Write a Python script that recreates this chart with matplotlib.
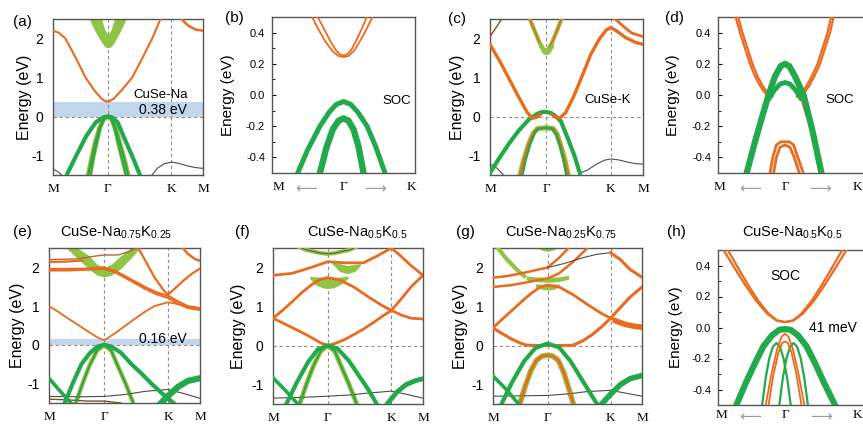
import matplotlib.pyplot as plt
from matplotlib.ticker import MultipleLocator

plt.rcParams['font.family'] = ['Liberation Sans', 'DejaVu Sans']
plt.rcParams['axes.unicode_minus'] = False
plt.rcParams['mathtext.fontset'] = 'custom'
plt.rcParams['mathtext.rm'] = 'Liberation Sans'

ORANGE = '#EA6A1E'
GREEN = '#22A94B'
LGREEN = '#8FC445'
OLIVE = '#A9B93E'
DARK = '#4F4A44'
BLUE = '#C2D7EE'
GRID = '#8E8E8E'

W, H = 863, 425

# high-symmetry path M-Γ-K-M
PATH_K = [0.0, 0.577, 1.244, 1.577]
PATH_LABELS = ['M', 'Γ', 'K', 'M']
SOC_LABELS = ['M', '⟵', 'Γ', '⟶', 'K']

# ---------------- (a) CuSe-Na ----------------
a_cb_k = [0.0, 0.06, 0.13, 0.24, 0.342, 0.44, 0.517, 0.547, 0.577, 0.607, 0.64, 0.73, 0.833, 0.94, 1.043, 1.13]
a_cb_e = [2.2, 2.15, 2.0, 1.5, 1.0, 0.65, 0.44, 0.4, 0.38, 0.41, 0.46, 0.7, 1.0, 1.5, 2.0, 2.5]
a_cb2_k = [1.35, 1.42, 1.5, 1.577]
a_cb2_e = [2.5, 2.33, 2.23, 2.2]
a_blob_k = [0.38, 0.45, 0.51, 0.545, 0.577, 0.61, 0.645, 0.70, 0.77]
a_blob_lo = [2.5, 2.15, 1.9, 1.79, 1.76, 1.79, 1.9, 2.15, 2.5]
a_blob_hi = [2.5, 2.5, 2.5, 2.22, 2.1, 2.22, 2.5, 2.5, 2.5]
a_vb1_k = [0.144, 0.245, 0.35, 0.45, 0.53, 0.577, 0.62, 0.68, 0.74, 0.83, 0.914]
a_vb1_e = [-1.5, -1.0, -0.5, -0.15, -0.02, 0.0, -0.02, -0.15, -0.5, -1.0, -1.5]
a_vb2_k = [0.37, 0.41, 0.44, 0.49, 0.53, 0.577, 0.62, 0.66, 0.70, 0.745, 0.79]
a_vb3_k = [0.395, 0.43, 0.46, 0.5, 0.54, 0.577, 0.61, 0.645, 0.68, 0.72, 0.765]
a_vb2_e = [-1.5, -1.03, -0.7, -0.28, -0.07, 0.0, -0.07, -0.3, -0.66, -1.05, -1.5]
a_bk1_k = [1.04, 1.1, 1.17, 1.244, 1.32, 1.42, 1.5, 1.577]
a_bk1_e = [-1.5, -1.32, -1.21, -1.17, -1.2, -1.27, -1.31, -1.33]
a_bk2_k = [0.0, 0.05, 0.09]
a_bk2_e = [-1.35, -1.41, -1.5]
a_gap = 0.38

# ---------------- (b) CuSe-Na, SOC ----------------
b_c1_x = [-0.44, -0.35, -0.25, -0.15, -0.07, 0.0, 0.07, 0.15, 0.25, 0.33, 0.405]
b_c1_e = [0.5, 0.42, 0.34, 0.28, 0.25, 0.243, 0.25, 0.285, 0.36, 0.43, 0.5]
b_c2_x = [-0.36, -0.28, -0.19, -0.11, -0.05, 0.0, 0.05, 0.11, 0.19, 0.26, 0.326]
b_c2_e = [0.5, 0.43, 0.35, 0.29, 0.26, 0.253, 0.26, 0.29, 0.36, 0.43, 0.5]
b_v1_x = [-0.64, -0.5, -0.33, -0.2, -0.1, 0.0, 0.1, 0.2, 0.33, 0.45, 0.58]
b_v1_e = [-0.5, -0.35, -0.2, -0.11, -0.06, -0.042, -0.06, -0.11, -0.2, -0.33, -0.5]
b_v2_x = [-0.33, -0.24, -0.15, -0.07, 0.0, 0.07, 0.14, 0.21, 0.28]
b_v2_e = [-0.5, -0.34, -0.22, -0.165, -0.15, -0.165, -0.22, -0.33, -0.5]

# ---------------- (c) CuSe-K ----------------
c_cb_k = [0.0, 0.1, 0.2, 0.3, 0.38, 0.42, 0.446, 0.48, 0.52]
c_cb_e = [1.85, 1.42, 0.95, 0.48, 0.12, 0.0, -0.04, -0.02, 0.05]
c_cbr_k = [0.64, 0.68, 0.72, 0.78, 0.86, 0.943, 1.04, 1.13, 1.2, 1.244, 1.3, 1.4, 1.5, 1.577]
c_cbr_e = [0.05, -0.02, -0.04, 0.1, 0.5, 1.0, 1.6, 2.0, 2.22, 2.28, 2.2, 2.02, 1.9, 1.85]
c_tr_k = [1.29, 1.38, 1.46, 1.577]
c_tr_e = [2.5, 2.3, 2.14, 2.05]
c_tl_k = [0.0, 0.06, 0.12]
c_tl_e = [2.05, 2.27, 2.5]
c_u_k = [0.41, 0.46, 0.51, 0.55, 0.577, 0.6, 0.64, 0.69, 0.737]
c_u_e = [2.5, 2.2, 1.9, 1.72, 1.67, 1.72, 1.9, 2.2, 2.5]
c_blob_k = [0.5, 0.54, 0.577, 0.615, 0.655]
c_blob_lo = [1.8, 1.62, 1.58, 1.62, 1.8]
c_blob_hi = [1.95, 1.8, 1.75, 1.8, 1.95]
c_vb_k = [0.0, 0.1, 0.2, 0.3, 0.4, 0.48, 0.53, 0.577, 0.63, 0.68, 0.73, 0.8, 0.87, 0.926]
c_vb_e = [-1.45, -1.05, -0.68, -0.35, -0.08, 0.06, 0.11, 0.12, 0.09, 0.0, -0.12, -0.55, -1.0, -1.45]
c_in1_k = [0.31, 0.35, 0.40, 0.45, 0.49, 0.577, 0.65, 0.69, 0.73, 0.77, 0.806]
c_in2_k = [0.335, 0.37, 0.415, 0.46, 0.5, 0.577, 0.64, 0.68, 0.72, 0.755, 0.785]
c_in_e = [-1.5, -1.1, -0.7, -0.42, -0.31, -0.29, -0.31, -0.45, -0.75, -1.1, -1.5]
c_bk1_k = [0.926, 1.0, 1.1, 1.18, 1.244, 1.32, 1.42, 1.5, 1.577]
c_bk1_e = [-1.45, -1.38, -1.22, -1.12, -1.09, -1.11, -1.17, -1.21, -1.22]
c_bk2_k = [0.0, 0.07, 0.14]
c_bk2_e = [-1.22, -1.32, -1.5]

# ---------------- (d) CuSe-K, SOC ----------------
d_c1_x = [-0.69, -0.63, -0.56, -0.49, -0.42, -0.35, -0.29, -0.25, -0.21]
d_c2_x = [-0.655, -0.595, -0.525, -0.455, -0.385, -0.315, -0.255, -0.215, -0.175]
d_cl_e = [0.5, 0.4, 0.3, 0.2, 0.12, 0.06, 0.02, 0.0, -0.01]
d_c3_x = [0.2, 0.24, 0.28, 0.34, 0.41, 0.49, 0.56, 0.63, 0.68]
d_c4_x = [0.165, 0.205, 0.245, 0.305, 0.375, 0.455, 0.525, 0.595, 0.645]
d_cr_e = [-0.01, 0.0, 0.02, 0.06, 0.12, 0.2, 0.3, 0.4, 0.5]
d_v1_x = [-0.536, -0.42, -0.32, -0.23, -0.14, -0.06, 0.0, 0.06, 0.14, 0.26, 0.38, 0.51]
d_v1_e = [-0.5, -0.3, -0.14, 0.0, 0.12, 0.185, 0.2, 0.185, 0.12, 0.0, -0.22, -0.5]
d_v2_x = [-0.22, -0.15, -0.07, 0.0, 0.07, 0.15, 0.22]
d_v2_e = [-0.02, 0.03, 0.07, 0.08, 0.07, 0.03, -0.02]
d_tl_x = [-0.22, -0.26, -0.3]
d_tr_x = [0.22, 0.26, 0.3]
d_t_e = [-0.02, -0.08, -0.14]
d_l1_x = [-0.21, -0.17, -0.12, -0.06, 0.0, 0.06, 0.12, 0.18, 0.256]
d_l1_e = [-0.5, -0.4, -0.32, -0.3, -0.3, -0.3, -0.32, -0.4, -0.5]
d_l2_x = [-0.16, -0.12, -0.07, 0.0, 0.07, 0.13, 0.2]
d_l2_e = [-0.5, -0.4, -0.335, -0.32, -0.335, -0.4, -0.5]

# ---------------- (e) CuSe-Na0.75K0.25 ----------------
e_t1_k = [0.0, 0.3, 0.45, 0.577, 0.72, 0.85, 0.95]
e_t1_e = [2.2, 2.22, 2.28, 2.32, 2.32, 2.42, 2.55]
e_t2_k = [0.0, 0.2, 0.35]
e_t2_e = [2.14, 2.15, 2.18]
e_m1_k = [0.0, 0.2, 0.4, 0.577, 0.7, 0.85, 1.0, 1.12, 1.244, 1.35, 1.45, 1.577]
e_m1_e = [1.96, 1.96, 1.97, 2.0, 1.9, 1.7, 1.5, 1.36, 1.27, 1.12, 1.0, 0.95]
e_m2_e = [1.92, 1.92, 1.94, 1.96, 1.86, 1.66, 1.45, 1.31, 1.21, 1.06, 0.95, 0.9]
e_k_k = [0.92, 1.0, 1.1, 1.2, 1.244, 1.3, 1.4, 1.5, 1.577]
e_k_e = [2.55, 2.2, 1.75, 1.4, 1.3, 1.42, 1.65, 1.85, 1.97]
e_tr_k = [1.38, 1.45, 1.52, 1.577]
e_tr_e = [2.55, 2.35, 2.22, 2.17]
e_v_k = [0.0, 0.1, 0.2, 0.3, 0.4, 0.5, 0.55, 0.577, 0.61, 0.7, 0.8, 0.9, 1.0, 1.1, 1.244, 1.35, 1.45, 1.577]
e_v_e = [1.0, 0.85, 0.68, 0.52, 0.36, 0.2, 0.14, 0.13, 0.17, 0.32, 0.5, 0.68, 0.85, 1.0, 1.1, 1.05, 0.98, 0.95]
e_blob_k = [0.18, 0.3, 0.42, 0.5, 0.577, 0.65, 0.75, 0.85, 0.95]
e_blob_lo = [2.5, 2.22, 1.95, 1.8, 1.75, 1.8, 1.97, 2.22, 2.5]
e_blob_hi = [2.5, 2.5, 2.3, 2.08, 2.0, 2.08, 2.3, 2.5, 2.5]
e_vb1_k = [0.164, 0.25, 0.338, 0.43, 0.51, 0.577, 0.65, 0.75, 0.862, 0.97, 1.07, 1.18, 1.3]
e_vb1_e = [-1.5, -0.98, -0.5, -0.2, -0.04, 0.0, -0.04, -0.2, -0.5, -0.75, -1.0, -1.25, -1.5]
e_vb2_k = [0.0, 0.1, 0.23]
e_vb2_e = [-0.86, -1.15, -1.5]
e_vb3_k = [1.15, 1.25, 1.35, 1.45, 1.577]
e_vb3_e = [-1.55, -1.3, -1.08, -0.93, -0.86]
e_in_k = [0.28, 0.35, 0.42, 0.5, 0.577, 0.65, 0.72, 0.8, 0.88]
e_in_e = [-1.5, -1.0, -0.55, -0.15, 0.0, -0.15, -0.55, -1.0, -1.5]
e_bk1_k = [0.0, 0.3, 0.577, 0.8, 1.0, 1.244, 1.4, 1.577]
e_bk1_e = [-1.33, -1.34, -1.33, -1.28, -1.2, -1.15, -1.25, -1.38]
e_bk2_k = [0.0, 0.2, 0.4, 0.577, 0.75]
e_bk2_e = [-1.4, -1.42, -1.45, -1.45, -1.5]
e_gap = 0.16

# ---------------- (f) CuSe-Na0.5K0.5 ----------------
f_v_k = [0.0, 0.1, 0.2, 0.3, 0.4, 0.5, 0.577, 0.65, 0.75, 0.85, 0.95, 1.05, 1.15, 1.244, 1.35, 1.45, 1.577]
f_v_e = [0.7, 0.58, 0.46, 0.34, 0.21, 0.07, 0.0, 0.05, 0.15, 0.28, 0.42, 0.58, 0.75, 0.9, 1.2, 1.5, 1.8]
f_l_k = [0.0, 0.1, 0.2, 0.3, 0.4, 0.5, 0.577, 0.7, 0.85, 1.0, 1.15, 1.244, 1.35, 1.45, 1.577]
f_l_e = [0.7, 0.9, 1.12, 1.35, 1.55, 1.7, 1.74, 1.68, 1.5, 1.25, 1.02, 0.9, 0.78, 0.7, 0.68]
f_u_k = [0.0, 0.2, 0.4, 0.577, 0.75, 0.95, 1.1, 1.244, 1.35, 1.45, 1.577]
f_u_e = [1.8, 1.85, 2.0, 2.15, 2.12, 2.12, 2.3, 2.5, 2.28, 2.05, 1.8]
f_top_k = [0.2, 0.35, 0.5, 0.577, 0.65, 0.8, 0.95]
f_top_e = [2.6, 2.45, 2.37, 2.35, 2.37, 2.45, 2.6]
f_b1_k = [0.385, 0.45, 0.52, 0.577, 0.64, 0.72, 0.79]
f_b1_lo = [1.72, 1.55, 1.48, 1.46, 1.48, 1.58, 1.72]
f_b1_hi = [1.78, 1.76, 1.75, 1.74, 1.75, 1.76, 1.78]
f_b2_k = [0.62, 0.7, 0.78, 0.86, 0.92]
f_b2_lo = [2.1, 1.9, 1.84, 1.9, 2.05]
f_b2_hi = [2.15, 2.1, 2.05, 2.08, 2.1]
f_vb1_k = [0.14, 0.25, 0.37, 0.47, 0.577, 0.68, 0.8, 0.91, 1.0, 1.086]
f_vb1_e = [-1.5, -0.95, -0.42, -0.1, 0.0, -0.08, -0.4, -0.8, -1.12, -1.48]
f_vb2_k = [0.0, 0.13, 0.26]
f_vb2_e = [-0.83, -1.15, -1.5]
f_vb3_k = [1.2, 1.3, 1.4, 1.5, 1.577]
f_vb3_e = [-1.5, -1.2, -1.0, -0.9, -0.85]
f_in_k = [0.28, 0.35, 0.42, 0.5, 0.577, 0.65, 0.72, 0.8, 0.88]
f_in_e = [-1.5, -1.0, -0.55, -0.15, 0.0, -0.15, -0.55, -1.0, -1.5]
f_bk1_k = [0.0, 0.3, 0.577, 0.8, 1.0, 1.244, 1.4, 1.577]
f_bk1_e = [-1.35, -1.33, -1.3, -1.27, -1.22, -1.17, -1.25, -1.35]

# ---------------- (g) CuSe-Na0.25K0.75 ----------------
g_v_k = [0.0, 0.1, 0.2, 0.3, 0.354, 0.45, 0.577, 0.7, 0.8, 0.85, 0.95, 1.05, 1.15, 1.244, 1.35, 1.45, 1.577]
g_v_e = [0.45, 0.3, 0.16, 0.05, 0.01, 0.0, 0.0, 0.0, 0.0, 0.01, 0.12, 0.28, 0.48, 0.7, 0.98, 1.24, 1.5]
g_l_k = [0.0, 0.1, 0.2, 0.3, 0.4, 0.5, 0.577, 0.7, 0.85, 1.0, 1.15, 1.244, 1.35, 1.45, 1.577]
g_l_e = [0.45, 0.68, 0.9, 1.12, 1.33, 1.5, 1.55, 1.5, 1.3, 1.05, 0.82, 0.7, 0.58, 0.5, 0.47]
g_fat_k = [1.3, 1.4, 1.5, 1.577]
g_fat_e = [0.63, 0.54, 0.49, 0.47]
g_u1_k = [0.0, 0.15, 0.3, 0.45, 0.577, 0.7, 0.8]
g_u1_e = [1.74, 1.78, 1.85, 1.93, 2.0, 2.25, 2.5]
g_u2_k = [0.0, 0.2, 0.4, 0.577, 0.7, 0.85, 1.0]
g_u2_e = [1.5, 1.55, 1.64, 1.72, 1.85, 2.15, 2.5]
g_kd_k = [0.577, 0.75, 0.95, 1.1, 1.244]
g_kd_e = [2.0, 2.1, 2.25, 2.34, 2.38]
g_km_k = [1.244, 1.35, 1.45, 1.577]
g_km_e = [2.38, 2.2, 1.95, 1.75]
g_b1_k = [0.45, 0.52, 0.577, 0.64, 0.7]
g_b1_lo = [1.5, 1.44, 1.42, 1.44, 1.5]
g_b1_hi = [1.58, 1.57, 1.56, 1.57, 1.58]
g_b2_k = [0.35, 0.45, 0.577, 0.7, 0.8]
g_b2_lo = [1.68, 1.64, 1.62, 1.64, 1.7]
g_b2_hi = [1.78, 1.76, 1.75, 1.76, 1.8]
g_b3_k = [0.47, 0.52, 0.577, 0.63, 0.68]
g_b3_lo = [2.5, 2.44, 2.42, 2.44, 2.5]
g_b3_hi = [2.55, 2.55, 2.55, 2.55, 2.55]
g_lg_k = [0.05, 0.15, 0.25, 0.33]
g_lg_e = [2.5, 2.2, 1.95, 1.78]
g_vb1_k = [0.09, 0.2, 0.33, 0.45, 0.577, 0.7, 0.82, 0.96, 1.1]
g_vb1_e = [-1.5, -0.95, -0.4, -0.06, 0.05, -0.05, -0.4, -0.95, -1.5]
g_vb2_k = [0.0, 0.15, 0.27]
g_vb2_e = [-0.78, -1.15, -1.5]
g_vb3_k = [1.15, 1.244, 1.35, 1.45, 1.577]
g_vb3_e = [-1.5, -1.25, -1.0, -0.85, -0.77]
g_in_k = [0.283, 0.34, 0.4, 0.46, 0.52, 0.577, 0.63, 0.69, 0.75, 0.8, 0.85]
g_in_e = [-1.5, -1.05, -0.65, -0.38, -0.27, -0.25, -0.27, -0.38, -0.7, -1.08, -1.5]
g_bk1_k = [0.0, 0.3, 0.577, 0.8, 1.0, 1.244, 1.4, 1.577]
g_bk1_e = [-1.3, -1.29, -1.28, -1.24, -1.18, -1.15, -1.22, -1.3]

# ---------------- (h) CuSe-Na0.5K0.5, SOC ----------------
h_c1_x = [-0.86, -0.7, -0.55, -0.4, -0.25, -0.12, 0.0, 0.12, 0.25, 0.4, 0.55, 0.7, 0.86]
h_c2_x = [-0.8, -0.65, -0.51, -0.37, -0.23, -0.11, 0.0, 0.11, 0.23, 0.37, 0.51, 0.65, 0.8]
h_c_e = [0.5, 0.38, 0.27, 0.17, 0.09, 0.045, 0.035, 0.045, 0.09, 0.17, 0.27, 0.38, 0.5]
h_v1_x = [-0.68, -0.55, -0.42, -0.3, -0.18, -0.08, 0.0, 0.08, 0.18, 0.3, 0.42, 0.55, 0.7]
h_v1_e = [-0.5, -0.36, -0.23, -0.12, -0.05, -0.015, -0.01, -0.015, -0.05, -0.12, -0.23, -0.36, -0.5]
h_r1_x = [-0.32, -0.27, -0.22, -0.17, -0.12, -0.07, -0.02, 0.03, 0.08]
h_r2_x = [-0.08, -0.03, 0.02, 0.07, 0.12, 0.17, 0.22, 0.27, 0.32]
h_r_e = [-0.5, -0.325, -0.2, -0.125, -0.1, -0.125, -0.2, -0.325, -0.5]
h_o1_x = [-0.27, -0.19, -0.11, -0.05, 0.0, 0.05, 0.11, 0.19, 0.27]
h_o1_e = [-0.5, -0.3, -0.14, -0.06, -0.04, -0.06, -0.14, -0.3, -0.5]
h_o2_x = [-0.23, -0.16, -0.09, -0.04, 0.0, 0.04, 0.09, 0.16, 0.23]
h_o2_e = [-0.5, -0.3, -0.16, -0.1, -0.09, -0.1, -0.16, -0.3, -0.5]


def band(ax, k, e, color, lw, z=3):
    ax.plot(k, e, color=color, lw=lw, solid_joinstyle='round', zorder=z)


def fat(ax, k, lo, hi, color=LGREEN, z=2):
    ax.fill_between(k, lo, hi, color=color, lw=0, zorder=z)


def frame(ax):
    for s in ax.spines.values():
        s.set_color('#555555')
        s.set_linewidth(1.0)


def full_panel(ax, label_x):
    ax.set_xlim(0, 1.577)
    ax.set_ylim(-1.5, 2.5)
    for k in PATH_K[1:3]:
        ax.axvline(k, color=GRID, lw=0.8, ls=(0, (3, 2.5)), zorder=1)
    ax.axhline(0, color=GRID, lw=0.8, ls=(0, (3, 2.5)), zorder=1)
    ax.set_xticks(PATH_K, PATH_LABELS, fontfamily='Liberation Serif', fontsize=9.5)
    ax.set_yticks([-1, 0, 1, 2])
    ax.tick_params(axis='y', labelsize=10, length=0, pad=7)
    ax.tick_params(axis='x', length=0, pad=6)
    ax.set_ylabel('Energy (eV)', fontsize=11.5)
    ax.yaxis.set_label_coords(label_x, 0.5)
    frame(ax)


def soc_panel(ax, xlim, tick_x, label_x, xpad=6):
    ax.set_xlim(*xlim)
    ax.set_ylim(-0.5, 0.5)
    ax.set_xticks(tick_x, SOC_LABELS, fontfamily='Liberation Serif', fontsize=9.5)
    for lbl in ax.get_xticklabels():
        if lbl.get_text() in ('⟵', '⟶'):
            lbl.set_fontfamily('DejaVu Sans')
            lbl.set_fontsize(11)
            lbl.set_color('#9A9A9A')
    ax.set_yticks([-0.4, -0.2, 0.0, 0.2, 0.4], ['-0.4', '-0.2', '0.0', '0.2', '0.4'])
    ax.yaxis.set_minor_locator(MultipleLocator(0.1))
    ax.tick_params(axis='y', which='major', labelsize=8, direction='in', length=3, pad=5)
    ax.tick_params(axis='y', which='minor', direction='in', length=2)
    ax.tick_params(axis='x', length=0, pad=xpad)
    ax.set_ylabel('Energy (eV)', fontsize=11)
    ax.yaxis.set_label_coords(label_x, 0.5)
    frame(ax)


def add_axes(x0, y0, x1, y1):
    return fig.add_axes([x0 / W, 1 - y1 / H, (x1 - x0) / W, (y1 - y0) / H])


def fig_text(x, y, s, size=11):
    fig.text(x / W, 1 - y / H, s, fontsize=size, ha='center', va='center')


fig = plt.figure(figsize=(8.63, 4.25), dpi=100)

# (a)
ax = add_axes(53, 19, 203, 175)
full_panel(ax, -0.14)
ax.axhspan(0, a_gap, color=BLUE, lw=0, zorder=0.5)
fat(ax, a_blob_k, a_blob_lo, a_blob_hi)
band(ax, a_cb_k, a_cb_e, ORANGE, 1.5)
band(ax, a_cb2_k, a_cb2_e, ORANGE, 1.8)
band(ax, a_vb2_k, a_vb2_e, OLIVE, 3.5)
band(ax, a_vb2_k, a_vb2_e, GREEN, 1.5, 4)
band(ax, a_vb3_k, a_vb2_e, OLIVE, 2.5)
band(ax, a_vb3_k, a_vb2_e, GREEN, 1.2, 4)
band(ax, a_vb1_k, a_vb1_e, GREEN, 3.0, 5)
band(ax, a_bk1_k, a_bk1_e, DARK, 0.8)
band(ax, a_bk2_k, a_bk2_e, DARK, 0.8)
ax.text(1.13, 0.55, 'CuSe-Na', fontsize=9.5, ha='center', va='center', zorder=6)
ax.text(1.16, 0.16, f'{a_gap:.2f} eV', fontsize=10, ha='center', va='center', zorder=6)
fig_text(22, 22, '(a)')

# (b)
ax = add_axes(272, 17, 415, 173)
soc_panel(ax, (-1, 1), [-0.916, -0.52, 0.0, 0.44, 0.95], -0.26)
band(ax, b_c1_x, b_c1_e, ORANGE, 1.3)
band(ax, b_c2_x, b_c2_e, ORANGE, 1.3)
band(ax, b_v1_x, b_v1_e, GREEN, 3.6)
band(ax, b_v2_x, b_v2_e, GREEN, 4.6)
ax.text(0.75, -0.04, 'SOC', fontsize=9.5, ha='center', va='center')
fig_text(234, 18, '(b)')

# (c)
ax = add_axes(490, 19, 643, 175)
full_panel(ax, -0.163)
band(ax, c_u_k, c_u_e, LGREEN, 3.0)
band(ax, c_u_k, c_u_e, ORANGE, 1.3)
fat(ax, c_blob_k, c_blob_lo, c_blob_hi, z=4)
band(ax, c_tl_k, c_tl_e, '#8A4A20', 1.0)
band(ax, c_tr_k, c_tr_e, ORANGE, 2.0)
band(ax, c_in1_k, c_in_e, LGREEN, 3.8)
band(ax, c_in1_k, c_in_e, ORANGE, 1.8, 4)
band(ax, c_in2_k, c_in_e, GREEN, 1.6, 4)
band(ax, c_vb_k, c_vb_e, GREEN, 3.0, 5)
band(ax, c_cb_k, c_cb_e, ORANGE, 2.4, 6)
band(ax, c_cbr_k, c_cbr_e, ORANGE, 2.4, 6)
band(ax, c_bk1_k, c_bk1_e, DARK, 0.8)
band(ax, c_bk2_k, c_bk2_e, DARK, 0.8)
ax.text(1.21, 0.43, 'CuSe-K', fontsize=9.5, ha='center', va='center', zorder=7)
fig_text(457, 19, '(c)')

# (d)
ax = add_axes(718, 17, 866, 173)
soc_panel(ax, (-0.937, 1.133), [-0.91, -0.49, 0.0, 0.49, 1.02], -0.257)
for xs in (d_c1_x, d_c2_x):
    band(ax, xs, d_cl_e, ORANGE, 1.6)
for xs in (d_c3_x, d_c4_x):
    band(ax, xs, d_cr_e, ORANGE, 1.6)
band(ax, d_tl_x, d_t_e, ORANGE, 1.0)
band(ax, d_tr_x, d_t_e, ORANGE, 1.0)
band(ax, d_l1_x, d_l1_e, ORANGE, 2.0)
band(ax, d_l2_x, d_l2_e, ORANGE, 2.0)
band(ax, d_v1_x, d_v1_e, GREEN, 4.5, 5)
band(ax, d_v2_x, d_v2_e, GREEN, 3.5, 5)
ax.text(0.77, -0.03, 'SOC', fontsize=9.5, ha='center', va='center')
fig_text(674, 18, '(d)')

# (e)
ax = add_axes(49, 248, 200, 403)
full_panel(ax, -0.159)
ax.axhspan(0, e_gap, color=BLUE, lw=0, zorder=0.5)
fat(ax, e_blob_k, e_blob_lo, e_blob_hi)
band(ax, e_t1_k, e_t1_e, '#B06A3A', 1.0)
band(ax, e_t2_k, e_t2_e, ORANGE, 1.6)
band(ax, e_m1_k, e_m1_e, ORANGE, 1.5, 4)
band(ax, e_m1_k, e_m2_e, ORANGE, 1.5, 4)
band(ax, e_k_k, e_k_e, ORANGE, 1.6, 4)
band(ax, e_tr_k, e_tr_e, ORANGE, 1.8)
band(ax, e_v_k, e_v_e, ORANGE, 1.3)
band(ax, e_in_k, e_in_e, OLIVE, 3.2)
band(ax, e_in_k, e_in_e, GREEN, 1.4, 4)
band(ax, e_vb1_k, e_vb1_e, GREEN, 3.0, 5)
band(ax, e_vb2_k, e_vb2_e, GREEN, 2.6, 5)
band(ax, e_vb3_k, e_vb3_e, GREEN, 4.5, 5)
band(ax, e_bk1_k, e_bk1_e, DARK, 0.8)
band(ax, e_bk2_k, e_bk2_e, '#6B5A2E', 1.0)
ax.text(1.19, 0.15, f'{e_gap:.2f} eV', fontsize=10, ha='center', va='center', zorder=6)
fig_text(22, 232, '(e)')
fig_text(116, 233, 'CuSe-Na$_{\\mathrm{0.75}}$K$_{\\mathrm{0.25}}$', 10.5)

# (f)
ax = add_axes(273, 248, 423, 404)
full_panel(ax, -0.18)
fat(ax, f_b1_k, f_b1_lo, f_b1_hi)
fat(ax, f_b2_k, f_b2_lo, f_b2_hi)
band(ax, f_top_k, f_top_e, LGREEN, 3.0)
band(ax, f_top_k, f_top_e, DARK, 0.6, 4)
band(ax, f_v_k, f_v_e, ORANGE, 2.0)
band(ax, f_l_k, f_l_e, ORANGE, 2.0)
band(ax, f_u_k, f_u_e, ORANGE, 2.0)
band(ax, f_in_k, f_in_e, OLIVE, 3.5)
band(ax, f_in_k, f_in_e, GREEN, 1.4, 4)
band(ax, f_vb1_k, f_vb1_e, GREEN, 3.0, 5)
band(ax, f_vb2_k, f_vb2_e, GREEN, 2.6, 5)
band(ax, f_vb3_k, f_vb3_e, GREEN, 3.5, 5)
band(ax, f_bk1_k, f_bk1_e, DARK, 0.8)
fig_text(242, 232, '(f)')
fig_text(357, 233, 'CuSe-Na$_{\\mathrm{0.5}}$K$_{\\mathrm{0.5}}$', 10.5)

# (g)
ax = add_axes(493, 248, 642, 404)
full_panel(ax, -0.168)
fat(ax, g_b1_k, g_b1_lo, g_b1_hi)
fat(ax, g_b2_k, g_b2_lo, g_b2_hi)
fat(ax, g_b3_k, g_b3_lo, g_b3_hi)
band(ax, g_lg_k, g_lg_e, LGREEN, 3.0)
band(ax, g_v_k, g_v_e, ORANGE, 2.2)
band(ax, g_l_k, g_l_e, ORANGE, 2.0)
band(ax, g_fat_k, g_fat_e, ORANGE, 4.0)
band(ax, g_u1_k, g_u1_e, ORANGE, 1.8)
band(ax, g_u2_k, g_u2_e, ORANGE, 1.8)
band(ax, g_kd_k, g_kd_e, DARK, 0.8)
band(ax, g_km_k, g_km_e, ORANGE, 2.2)
band(ax, g_in_k, g_in_e, LGREEN, 4.0)
band(ax, g_in_k, g_in_e, ORANGE, 2.0, 4)
band(ax, g_vb1_k, g_vb1_e, GREEN, 3.0, 5)
band(ax, g_vb2_k, g_vb2_e, GREEN, 2.6, 5)
band(ax, g_vb3_k, g_vb3_e, GREEN, 4.0, 5)
band(ax, g_bk1_k, g_bk1_e, DARK, 0.8)
fig_text(465, 232, '(g)')
fig_text(561, 233, 'CuSe-Na$_{\\mathrm{0.25}}$K$_{\\mathrm{0.75}}$', 10.5)

# (h)
ax = add_axes(718, 250, 866, 405)
soc_panel(ax, (-0.937, 1.133), [-0.885, -0.49, 0.0, 0.51, 1.02], -0.236, xpad=3)
band(ax, h_c1_x, h_c_e, ORANGE, 1.6)
band(ax, h_c2_x, h_c_e, ORANGE, 1.6)
band(ax, h_r1_x, h_r_e, GREEN, 1.6)
band(ax, h_r2_x, h_r_e, GREEN, 1.6)
band(ax, h_o1_x, h_o1_e, ORANGE, 1.3, 4)
band(ax, h_o2_x, h_o2_e, ORANGE, 1.3, 4)
band(ax, h_v1_x, h_v1_e, GREEN, 4.5, 5)
ax.text(0.0, 0.33, 'SOC', fontsize=10, ha='center', va='center')
ax.text(0.67, 0.0, '41 meV', fontsize=10, ha='center', va='center', zorder=6)
fig_text(676, 232, '(h)')
fig_text(792, 233, 'CuSe-Na$_{\\mathrm{0.5}}$K$_{\\mathrm{0.5}}$', 10.5)

fig.savefig('out.png', dpi=100)
